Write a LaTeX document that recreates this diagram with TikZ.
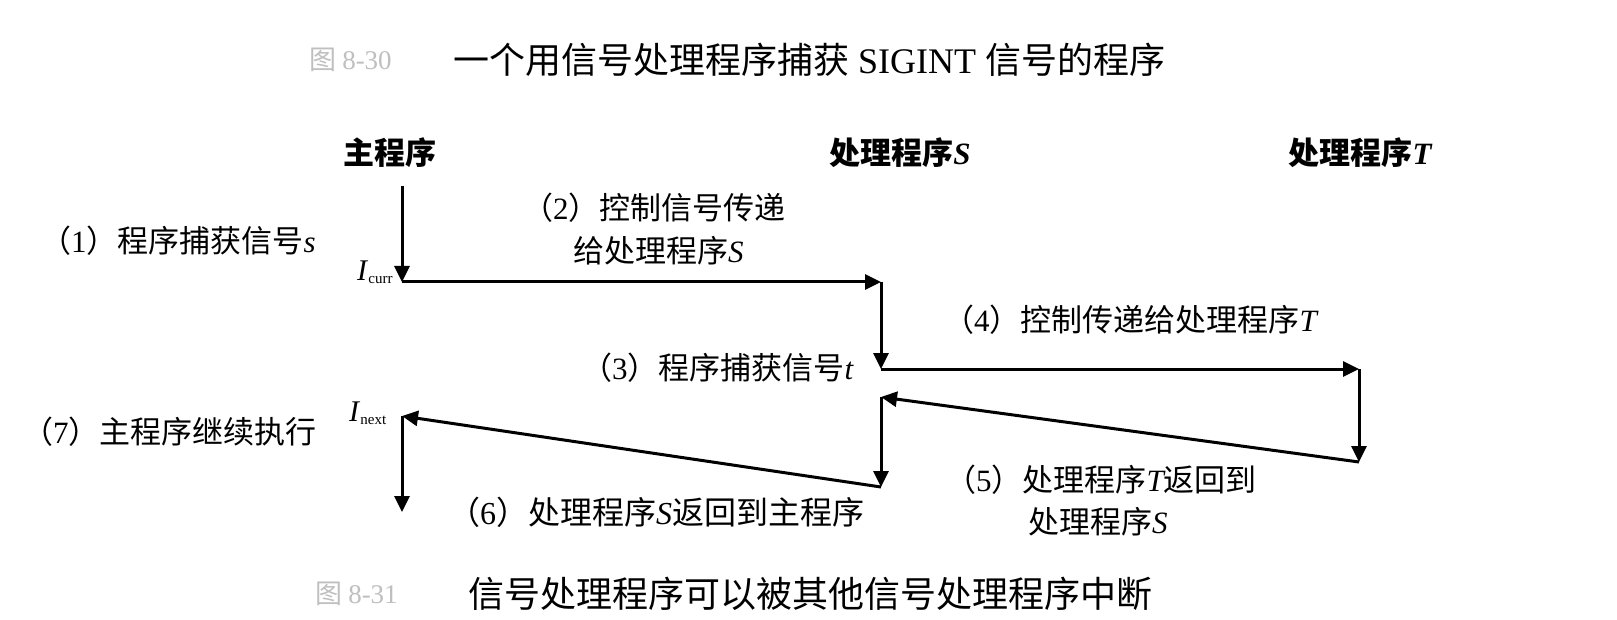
\documentclass[tikz,border=0pt]{standalone}
\usepackage{fontspec}
\setmainfont{Liberation Serif}
\newfontfamily\cjk{Noto Sans CJK SC}
\usetikzlibrary{arrows.meta}
\newcommand\latit[1]{{\rmfamily\itshape #1}}
\newcommand\pnum[1]{（{\rmfamily #1}）}
\begin{document}
\begin{tikzpicture}[x=1pt,y=-1pt,
  flow/.style={line width=3pt,-{Triangle[length=16pt,width=15pt]}},
  lbl/.style={inner sep=0pt,anchor=west,font=\cjk\fontsize{31}{38}\selectfont},
  hdr/.style={inner sep=0pt,font=\cjk\bfseries\fontsize{31}{38}\selectfont},
  captext/.style={inner sep=0pt,anchor=west,font=\cjk\fontsize{36}{42}\selectfont},
  faint/.style={inner sep=0pt,anchor=west,text=black!25,font=\cjk\fontsize{27}{30}\selectfont},
  ilbl/.style={inner sep=0pt,anchor=west,font=\rmfamily\fontsize{30}{30}\selectfont}]
\useasboundingbox[fill=white] (0,0) rectangle (1617,620);

% captions
\node[faint] (f1) at (309,60) {图 {\rmfamily 8-30}};
\node[captext] (c1) at (453,60) {一个用信号处理程序捕获{\rmfamily\ SIGINT }信号的程序};
\node[faint] (f2) at (315,594) {图 {\rmfamily 8-31}};
\node[captext] (c2) at (468,594) {信号处理程序可以被其他信号处理程序中断};

% headers
\node[hdr] (hm) at (390,153) {主程序};
\node[hdr] (hs) at (900,153) {处理程序\latit{S}};
\node[hdr] (ht) at (1360,153) {处理程序\latit{T}};

% path points
\coordinate (m1) at (402,186);
\coordinate (m2) at (402,282);
\coordinate (s1) at (881,282);
\coordinate (s2) at (881,369);
\coordinate (t1) at (1359,369);
\coordinate (t2) at (1359,462);
\coordinate (s3) at (881,397);
\coordinate (s4) at (881,487);
\coordinate (m3) at (402,416);
\coordinate (m4) at (402,512);

\draw[flow] (m1) -- (m2);
\draw[flow] (m2) -- (s1);
\draw[flow] (s1) -- (s2);
\draw[flow] (s2) -- (t1);
\draw[flow] (t1) -- (t2);
\draw[flow] (t2) -- (s3);
\draw[flow] (s3) -- (s4);
\draw[flow] (s4) -- (m3);
\draw[flow] (m3) -- (m4);

% labels
\node[lbl] (l1) at (40,241) {\pnum{1}程序捕获信号\latit{s}};
\node[ilbl] (ic) at (357,272) {\textit{I}\raisebox{-0.25ex}{\fontsize{15}{16}\selectfont curr}};
\node[lbl] (l2a) at (522,208) {\pnum{2}控制信号传递};
\node[lbl] (l2b) at (573,251) {给处理程序\latit{S}};
\node[lbl] (l3) at (581,368) {\pnum{3}程序捕获信号\latit{t}};
\node[lbl] (l4) at (943,320) {\pnum{4}控制传递给处理程序\latit{T}};
\node[lbl] (l5a) at (945,480) {\pnum{5}处理程序\latit{T}返回到};
\node[lbl] (l5b) at (1028,522) {处理程序\latit{S}};
\node[lbl,font=\cjk\fontsize{32}{38}\selectfont] (l6) at (448,512) {\pnum{6}处理程序\latit{S}返回到主程序};
\node[lbl] (l7) at (22,432) {\pnum{7}主程序继续执行};
\node[ilbl] (in) at (349,413) {\textit{I}\raisebox{-0.25ex}{\fontsize{15}{16}\selectfont next}};
\end{tikzpicture}
\end{document}
